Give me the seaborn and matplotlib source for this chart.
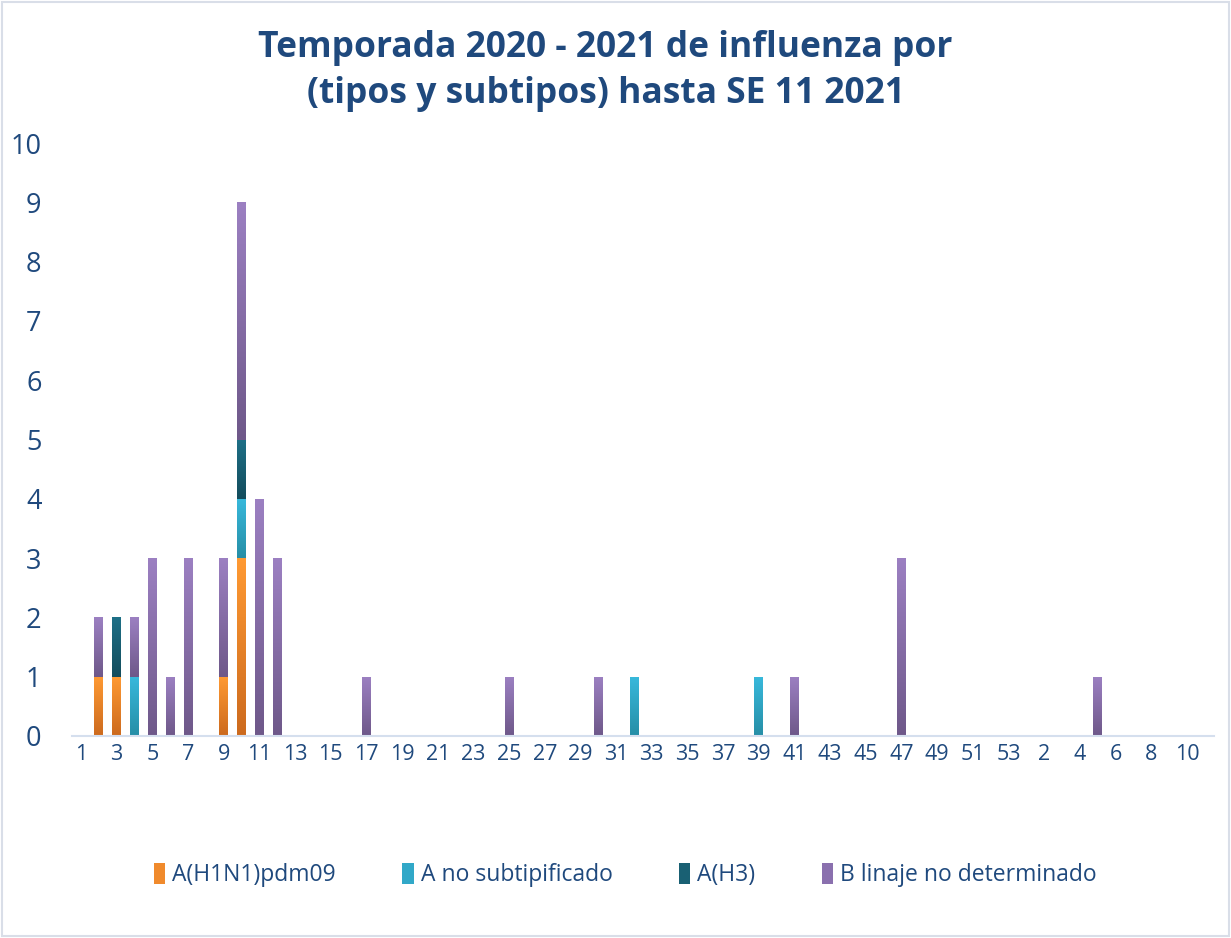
import numpy as np
import pandas as pd
import matplotlib
matplotlib.use("Agg")
import matplotlib.pyplot as plt
import seaborn as sns
from matplotlib.colors import LinearSegmentedColormap
from matplotlib.patches import Patch, Rectangle

# Semanas epidemiologicas: 1-53 de 2020 y 1-11 de 2021
semanas = [str(s) for s in range(1, 54)] + [str(s) for s in range(1, 12)]

h1n1 = [0, 1, 1, 0, 0, 0, 0, 0, 1, 3,
        0, 0, 0, 0, 0, 0, 0, 0, 0, 0,
        0, 0, 0, 0, 0, 0, 0, 0, 0, 0,
        0, 0, 0, 0, 0, 0, 0, 0, 0, 0,
        0, 0, 0, 0, 0, 0, 0, 0, 0, 0,
        0, 0, 0, 0, 0, 0, 0, 0, 0, 0,
        0, 0, 0, 0]
a_no_sub = [0, 0, 0, 1, 0, 0, 0, 0, 0, 1,
            0, 0, 0, 0, 0, 0, 0, 0, 0, 0,
            0, 0, 0, 0, 0, 0, 0, 0, 0, 0,
            0, 1, 0, 0, 0, 0, 0, 0, 1, 0,
            0, 0, 0, 0, 0, 0, 0, 0, 0, 0,
            0, 0, 0, 0, 0, 0, 0, 0, 0, 0,
            0, 0, 0, 0]
h3 = [0, 0, 1, 0, 0, 0, 0, 0, 0, 1,
      0, 0, 0, 0, 0, 0, 0, 0, 0, 0,
      0, 0, 0, 0, 0, 0, 0, 0, 0, 0,
      0, 0, 0, 0, 0, 0, 0, 0, 0, 0,
      0, 0, 0, 0, 0, 0, 0, 0, 0, 0,
      0, 0, 0, 0, 0, 0, 0, 0, 0, 0,
      0, 0, 0, 0]
b_linaje = [0, 1, 0, 1, 3, 1, 3, 0, 2, 4,
            4, 3, 0, 0, 0, 0, 1, 0, 0, 0,
            0, 0, 0, 0, 1, 0, 0, 0, 0, 1,
            0, 0, 0, 0, 0, 0, 0, 0, 0, 0,
            1, 0, 0, 0, 0, 0, 3, 0, 0, 0,
            0, 0, 0, 0, 0, 0, 0, 1, 0, 0,
            0, 0, 0, 0]

series = ["A(H1N1)pdm09", "A no subtipificado", "A(H3)", "B linaje no determinado"]
valores = [h1n1, a_no_sub, h3, b_linaje]
# color arriba / abajo del degradado
col_top = ["#FF9A33", "#38B9DC", "#1E7087", "#9C80C2"]
col_bot = ["#CC6A1E", "#268EA6", "#134C5C", "#6E5889"]
col_mid = ["#F08A2C", "#31A8C8", "#196073", "#8A70AE"]

texto = "#1F497D"

sns.set_theme(style="white")
plt.rcParams['font.family'] = ['Open Sans', 'DejaVu Sans']

fig = plt.figure(figsize=(12.31, 9.38), dpi=100)
ax = fig.add_axes([0.0585, 0.2154, 0.9275, 0.632])

pos = np.arange(len(semanas))
base = np.zeros(len(semanas))
for nombre, vals, c in zip(series, valores, col_mid):
    df = pd.DataFrame({"pos": pos, "val": vals})
    sns.barplot(data=df, x="pos", y="val", color=c, bottom=base, width=0.5,
                saturation=1, ax=ax, errorbar=None)
    base = base + np.array(vals)

# degradado vertical en cada segmento
grad = np.linspace(1, 0, 256).reshape(-1, 1)
for cont, ct, cb in zip(ax.containers, col_top, col_bot):
    cmap = LinearSegmentedColormap.from_list("g", [cb, ct])
    for p in cont.patches:
        h = p.get_height()
        if h <= 0:
            continue
        x, y, w = p.get_x(), p.get_y(), p.get_width()
        im = ax.imshow(grad, cmap=cmap, extent=[x, x + w, y, y + h],
                       aspect="auto", origin="upper", zorder=p.get_zorder() + 0.1)
        im.set_clip_path(p)

ax.set_xlim(-0.5, len(semanas) - 0.5)
ax.set_ylim(0, 10)
ax.set_xticks(pos[::2])
ax.set_xticklabels(semanas[::2], fontsize=15.5, color=texto)
ax.set_yticks(range(0, 11))
ax.set_yticklabels([str(v) for v in range(0, 11)], fontsize=19.5, color=texto)
ax.tick_params(axis="x", length=0, pad=6)
ax.tick_params(axis="y", length=0, pad=22)
ax.set_xlabel("")
ax.set_ylabel("")
for s in ["top", "right", "left"]:
    ax.spines[s].set_visible(False)
ax.spines["bottom"].set_color("#D5DFEE")
ax.spines["bottom"].set_linewidth(1.5)

fig.text(0.492, 0.924, "Temporada 2020 - 2021 de influenza por\n(tipos y subtipos) hasta SE 11 2021",
         ha="center", va="center", fontsize=25.5, fontweight="bold", color=texto,
         linespacing=1.38)

handles = [Patch(facecolor=c, edgecolor="none", label=n) for n, c in zip(series, col_mid)]
fig.legend(handles=handles, loc="center", bbox_to_anchor=(0.508, 0.067), ncol=4,
           frameon=False, fontsize=16.5, handlelength=0.5, handleheight=1.0,
           handletextpad=0.3, columnspacing=2.9, labelcolor=texto)

fig.patches.append(Rectangle((0.002, 0.002), 0.996, 0.996, transform=fig.transFigure,
                             fill=False, edgecolor="#D9DEE8", lw=1.5))

fig.savefig("out.png", dpi=100)
